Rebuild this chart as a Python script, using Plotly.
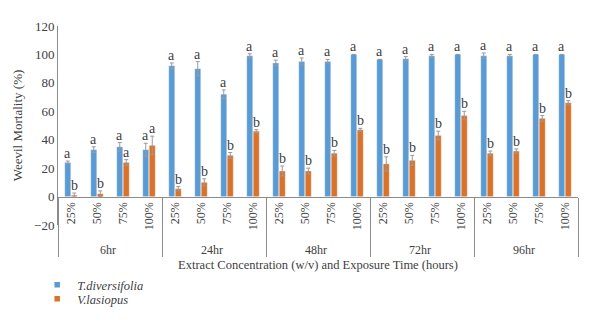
import plotly.graph_objects as go

times = ["6hr", "24hr", "48hr", "72hr", "96hr"]
concs = ["25%", "50%", "75%", "100%"]

t_div = [24, 33, 35, 33, 92, 90, 72, 99, 94, 95, 95, 100, 96.5, 97, 99, 100, 99, 99, 100, 100]
t_div_err = [1, 2, 3, 4.5, 2, 5, 3, 1.5, 2, 2.5, 1.5, 0, 0, 1.5, 1, 0, 2, 1, 0, 0]
v_las = [1, 2, 24, 36, 5.5, 10, 29, 46, 18, 18, 30.5, 47, 23, 25.5, 43, 57, 30.5, 32, 55, 66]
v_las_err = [1.5, 2, 2, 6.5, 1.5, 2.5, 2, 1, 3.5, 2, 2, 1, 5, 3.5, 3, 3, 1.5, 1.5, 2, 1.5]
t_div_letters = ["a"] * 20
v_las_letters = ["b", "b", "a", "a"] + ["b"] * 16

series_names = ["T.diversifolia", "V.lasiopus"]
colors = ["#5B9BD5", "#D9732B"]

xg = [t for t in times for _ in concs]
xc = [c for _ in times for c in concs]

FONT = "Liberation Serif"
TXT = "#404040"

fig = go.Figure()
for name, vals, errs, col in [(series_names[0], t_div, t_div_err, colors[0]),
                              (series_names[1], v_las, v_las_err, colors[1])]:
    fig.add_trace(go.Bar(
        x=[xg, xc], y=vals, name=name, marker_color=col,
        marker_line=dict(color="rgba(255,255,255,0.6)", width=0.5),
        error_y=dict(type="data", array=errs, color="#9A9A9A", thickness=1, width=2),
        showlegend=False,
    ))

# legend proxies (one legend per entry for exact placement)
for name, col, lg in zip(series_names, colors, ["legend", "legend2"]):
    fig.add_trace(go.Scatter(x=[None], y=[None], mode="markers", name=name, legend=lg,
                             marker=dict(symbol="square", size=5.5, color=col)))

# significance letters
for letters, vals, errs, shift in [(t_div_letters, t_div, t_div_err, -3.5),
                                   (v_las_letters, v_las, v_las_err, 3.5)]:
    for i, (l, v, e) in enumerate(zip(letters, vals, errs)):
        fig.add_annotation(x=i, y=v + e, text=l, showarrow=False, xref="x", yref="y",
                           yanchor="bottom", xshift=shift, yshift=-2,
                           font=dict(family=FONT, size=14, color=TXT))

leg_common = dict(xanchor="left", yanchor="middle", bgcolor="rgba(0,0,0,0)",
                  font=dict(family=FONT, size=12.5, color=TXT, style="italic"),
                  itemwidth=30)

fig.update_layout(
    width=600, height=327,
    margin=dict(l=58, r=22, t=26, b=102),
    plot_bgcolor="white", paper_bgcolor="white",
    barmode="group", bargap=0.5, bargroupgap=0.08,
    font=dict(family=FONT, color=TXT, size=12.5),
    legend=dict(x=-0.04, y=-(285 - 225) / 199, **leg_common),
    legend2=dict(x=-0.04, y=-(299 - 225) / 199, **leg_common),
    xaxis=dict(type="multicategory", anchor="free", position=20 / 140, automargin=False,
               showline=True, linecolor="#8C8C8C", linewidth=1,
               showdividers=True, dividercolor="#8C8C8C", dividerwidth=1,
               tickangle=-90, tickfont=dict(family=FONT, size=12, color=TXT),
               title=dict(text="Extract Concentration (w/v) and Exposure Time (hours)",
                          font=dict(family=FONT, size=12.5, color=TXT), standoff=4)),
    yaxis=dict(range=[-20, 120], tickvals=[-20, 0, 20, 40, 60, 80, 100, 120], automargin=False,
               showline=True, linecolor="#8C8C8C", linewidth=1,
               showgrid=False, zeroline=False, ticks="",
               tickfont=dict(family=FONT, size=13, color=TXT),
               title=dict(text="Weevil Mortality (%)", font=dict(family=FONT, size=13, color=TXT),
                          standoff=8)),
)

fig.write_html("out.html", config={"displayModeBar": False},
               post_script="document.body.style.margin='0px';")
